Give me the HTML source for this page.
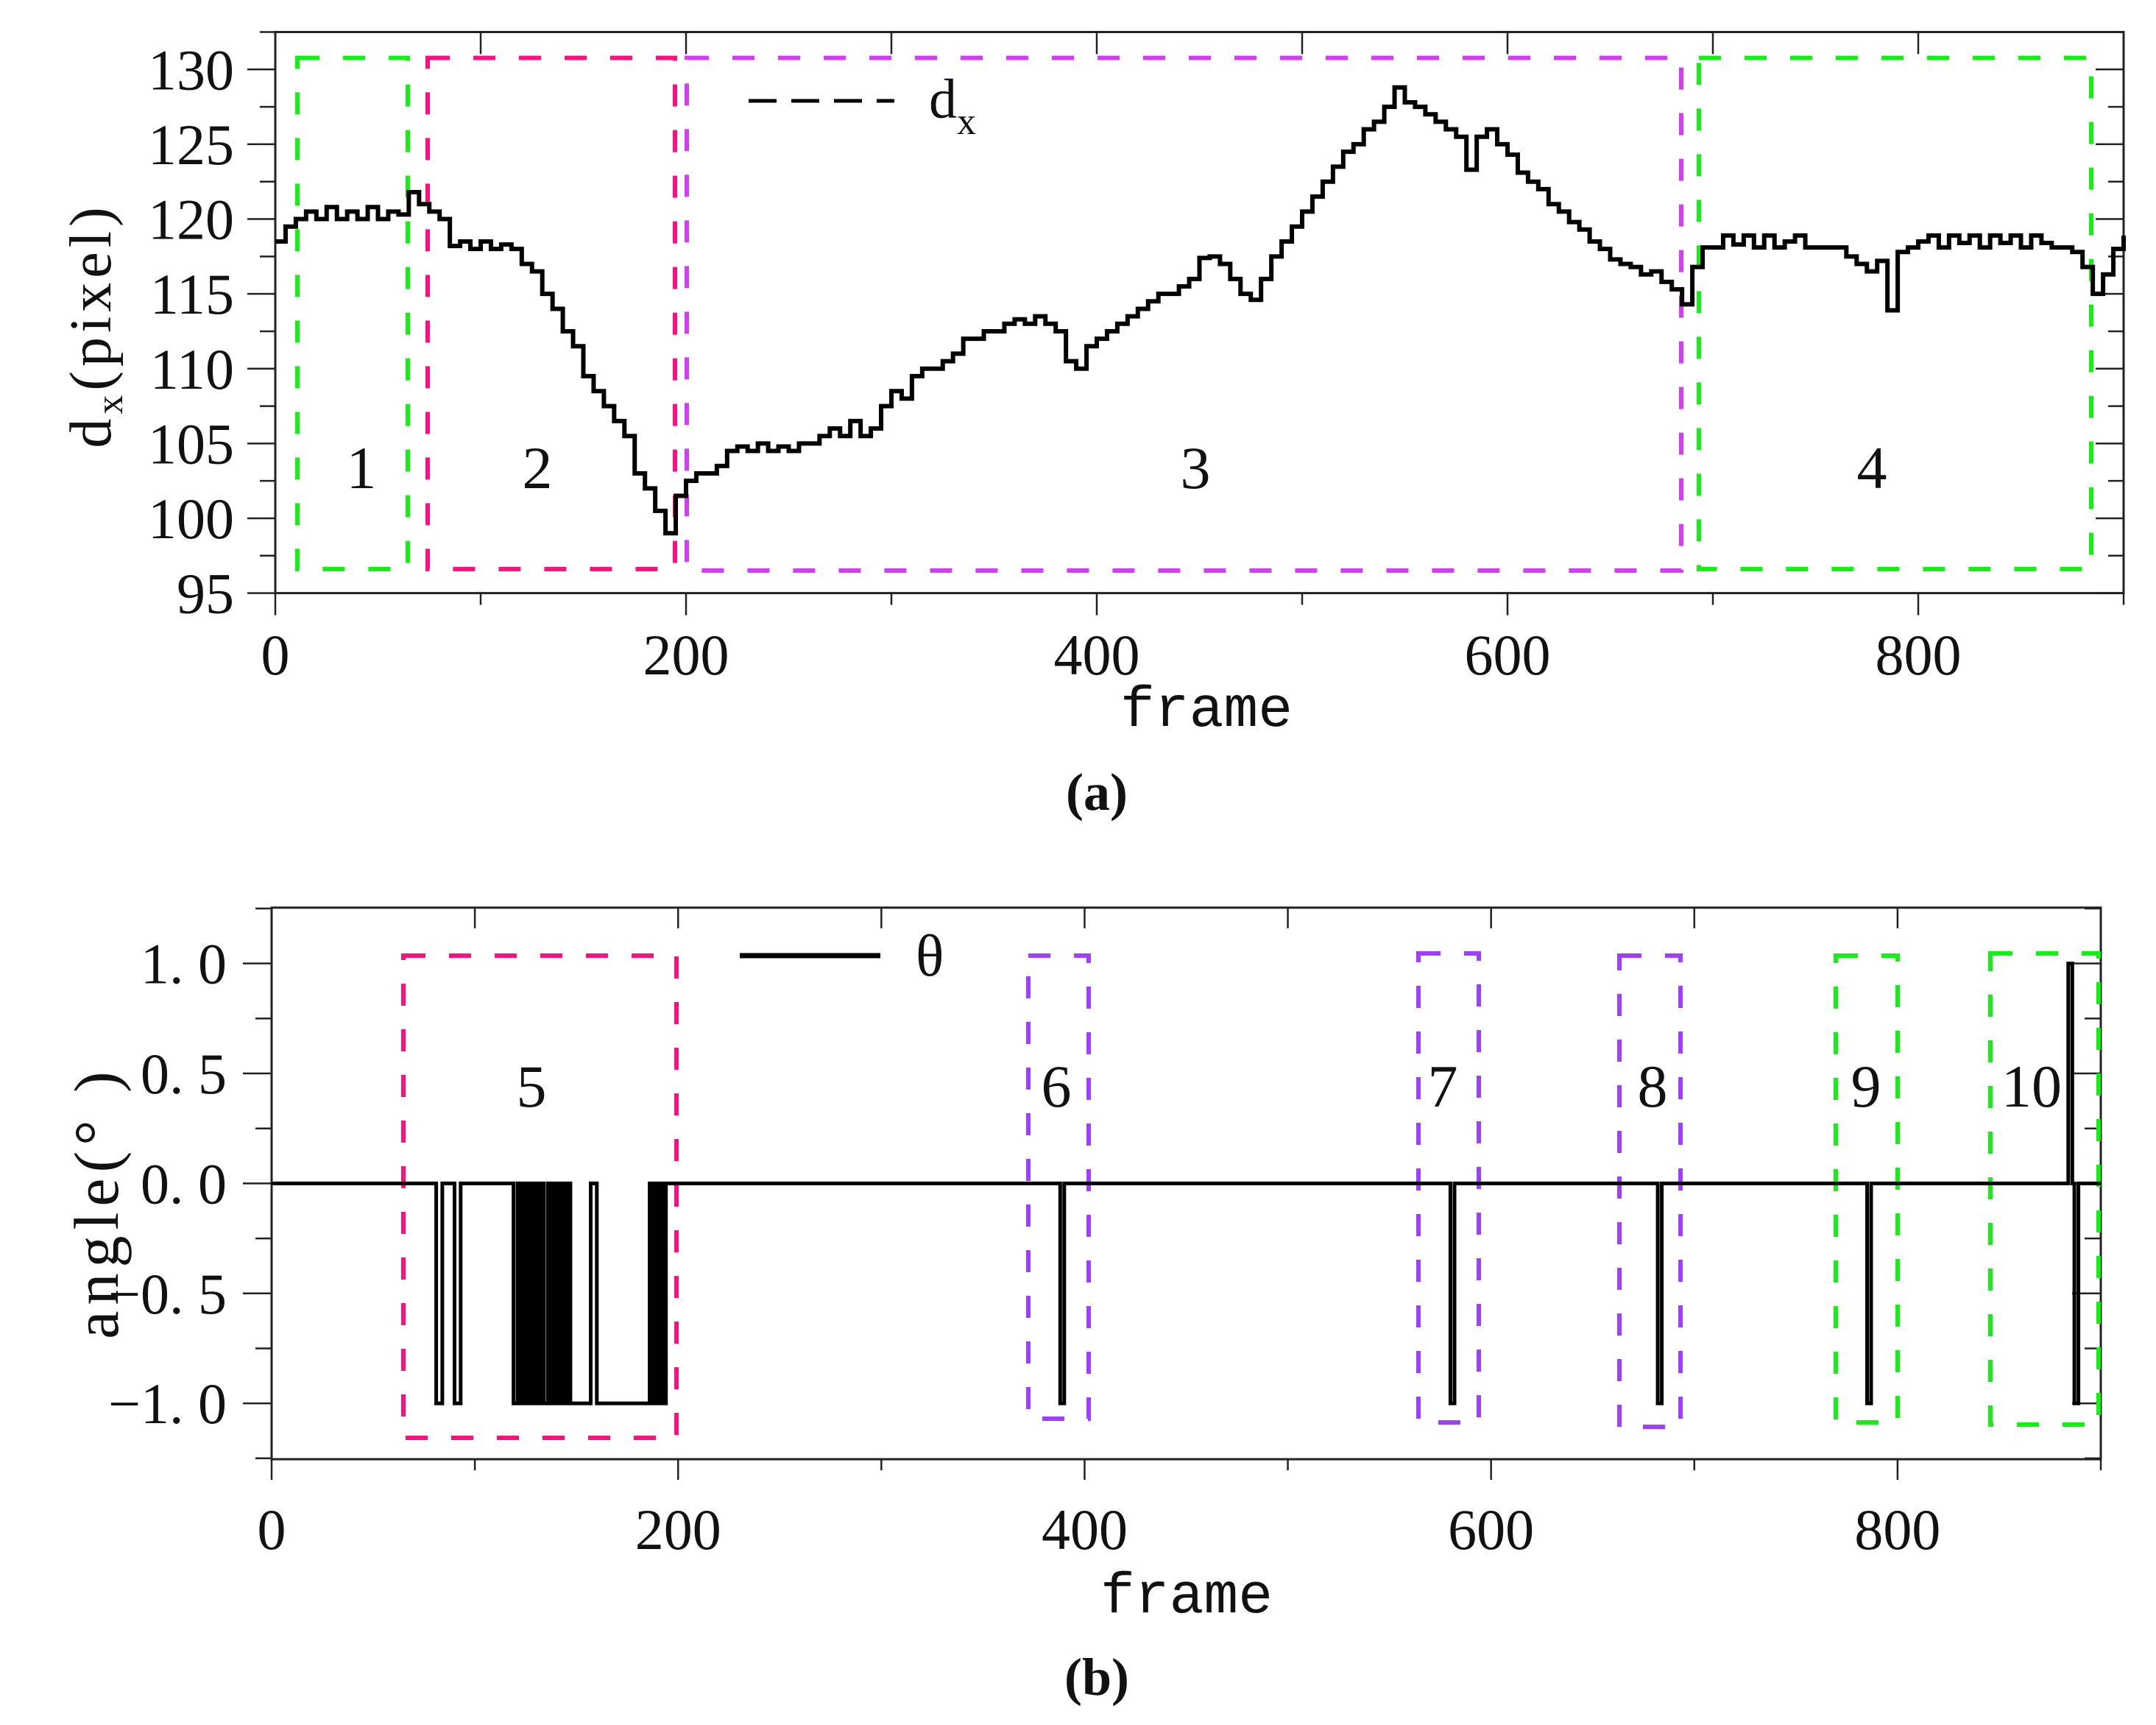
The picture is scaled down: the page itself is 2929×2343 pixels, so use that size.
<!DOCTYPE html>
<html><head><meta charset="utf-8">
<style>
html,body{margin:0;padding:0;background:#fff;}
svg{display:block;}
text{font-family:"Liberation Serif","Noto Serif CJK SC",serif;fill:#111;}
.mono{font-family:"Liberation Mono","Noto Sans CJK SC",monospace;}
</style></head>
<body>
<svg id="fig" width="2929" height="2343" viewBox="0 0 2929 2343" xmlns="http://www.w3.org/2000/svg">
<g id="chartA"></g>
<g id="chartB"></g>
</svg>
<script>
// ---------- Chart (a) data ----------
const dxFrames = [0,5,10,15,20,25,30,35,40,45,50,55,60,65,70,75,80,85,90,95,100,105,110,115,120,125,130,135,140,145,150,155,160,165,170,175,180,185,190,195,200,205,210,215,220,225,230,235,240,245,250,255,260,265,270,275,280,285,290,295,300,305,310,315,320,325,330,335,340,345,350,355,360,365,370,375,380,385,390,395,400,405,410,415,420,425,430,435,440,445,450,455,460,465,470,475,480,485,490,495,500,505,510,515,520,525,530,535,540,545,550,555,560,565,570,575,580,585,590,595,600,605,610,615,620,625,630,635,640,645,650,655,660,665,670,675,680,685,690,695,700,705,710,715,720,725,730,735,740,745,750,755,760,765,770,775,780,785,790,795,800,805,810,815,820,825,830,835,840,845,850,855,860,865,870,875,880,885,890,895,900];
const dxValues = [118.5,119.5,120,120.5,120,120.8,120,120.5,120,120.8,120,120.5,120.3,121.8,121,120.5,120,118.2,118.5,118,118.5,118,118.3,118,117,116.5,115,114,112.5,111.5,109.5,108.5,107.5,106.5,105.5,103,102,100.5,99,101.5,102.5,103,103,103.5,104.5,104.8,104.5,105,104.5,104.8,104.5,105,105,105.5,106,105.5,106.5,105.5,106,107.5,108.5,108,109.5,110,110,110.5,111,112,112,112.5,112.5,113,113.3,113,113.5,113,112.5,110.5,110,111.5,112,112.5,113,113.5,114,114.5,115,115,115.5,116,117.4,117.5,117,116,115,114.6,116,117.5,118.5,119.5,120.5,121.5,122.5,123.5,124.5,125,126,126.5,127.5,128.8,127.8,127.5,127,126.5,126,125.5,123.3,125.5,126,125,124.3,123.1,122.5,122,121,120.5,119.8,119.3,118.5,118,117.3,117,116.8,116.3,116.5,115.8,115.3,114.3,116.8,118.1,118.1,118.9,118.3,118.9,118.1,118.9,118.1,118.5,118.9,118.1,118.1,118.1,118.1,117.5,117,116.5,117.2,113.9,117.8,118.1,118.5,118.9,118.1,118.9,118.4,118.9,118.1,118.9,118.4,118.9,118.1,118.9,118.4,118.1,118.1,117.8,116.8,115,116.3,118,118.9];
const aYTicks = [95,100,105,110,115,120,125,130];
const aXTicks = [0,200,400,600,800];

// ---------- Chart (b) data ----------
const thetaNegFrames = [81,82,83,90,91,92,119,120,122,124,126,128,130,132,134,135,137,139,141,143,145,147,148,149,150,151,152,153,154,155,156,160,161,162,163,164,165,166,167,168,169,170,171,172,173,174,175,176,177,178,179,180,181,182,183,184,185,187,189,191,193,388,389,580,581,682,683,785,786,887,888];
const thetaPosFrames = [884,885];
const bYTicks = [-1.0,-0.5,0.0,0.5,1.0];
const bYLabels = ["\u22121. 0","\u22120. 5","0. 0","0. 5","1. 0"];
const bXTicks = [0,200,400,600,800];

const NS = "http://www.w3.org/2000/svg";
function mk(parent, tag, attrs, txt){
  const e = document.createElementNS(NS, tag);
  for (const k in attrs) e.setAttribute(k, attrs[k]);
  if (txt !== undefined) e.textContent = txt;
  parent.appendChild(e);
  return e;
}

// ================= Chart A =================
const A = document.getElementById('chartA');
const aL=374, aR=2885, aT=43.5, aB=805.6;
const ax = f => aL + (f-0)/(900-0)*(aR-aL);
const ay = v => aB - (v-95)/(132.5-95)*(aB-aT);

let fr = mk(A,'rect',{x:aL,y:aT,width:aR-aL,height:aB-aT,fill:'none',stroke:'#222','stroke-width':3});


for (let v=95; v<=132.5; v+=2.5){
  const major = (v%5===0);
  const y = ay(v);
  let t = mk(A,'line',{x1:aL-(major?38:21),x2:aL,y1:y,y2:y,stroke:'#222','stroke-width':2.5});
  
  
  let t2 = mk(A,'line',{x1:aR,x2:aR-(major?38:21),y1:y,y2:y,stroke:'#222','stroke-width':2.5});
  
  
}
for (let f=0; f<=900; f+=100){
  const major = (f%200===0);
  const x = ax(f);
  let t = mk(A,'line',{x1:x,x2:x,y1:aB,y2:aB+(major?30:16),stroke:'#222','stroke-width':2.5});
  
  
  let t2 = mk(A,'line',{x1:x,x2:x,y1:aT,y2:aT+30,stroke:'#222','stroke-width':2.5});
  
  
}
aYTicks.forEach(v=>{
  let t = mk(A,'text',{x:aL-56,y:ay(v)+27,'text-anchor':'end','font-size':78},String(v));
  
  
});
aXTicks.forEach(f=>{
  let t = mk(A,'text',{x:ax(f),y:916,'text-anchor':'middle','font-size':78},String(f));
  
  
});
let xt = mk(A,'text',{x:1639,y:986,'text-anchor':'middle','font-size':78,'class':'mono'},'frame');


let yt = mk(A,'text',{x:0,y:0,'text-anchor':'middle','font-size':80,'letter-spacing':6,transform:'translate(150,442) rotate(-90)'});


mk(yt,'tspan',{},'d');
mk(yt,'tspan',{'font-size':52,dy:16},'x');
mk(yt,'tspan',{dy:-16},'(pixel)');
let ca = mk(A,'text',{x:1490,y:1100,'text-anchor':'middle','font-size':72,'font-weight':'bold'},'(a)');



const boxesA = [
  {n:'region-box-1',x1:404,x2:554,y1:78.6,y2:773,c:'#14f014'},
  {n:'region-box-2',x1:581,x2:917,y1:78.6,y2:773,c:'#ff1080'},
  {n:'region-box-3',x1:933,x2:2284,y1:78.6,y2:775,c:'#d43cf5'},
  {n:'region-box-4',x1:2308,x2:2841,y1:78.6,y2:773,c:'#14f014'}
];
boxesA.forEach(b=>{
  let r = mk(A,'rect',{x:b.x1,y:b.y1,width:b.x2-b.x1,height:b.y2-b.y1,fill:'none',stroke:b.c,'stroke-width':6,'stroke-dasharray':'30 32'});
  
  
});
[['1',491],['2',730],['3',1624],['4',2543]].forEach(l=>{
  let t = mk(A,'text',{x:l[1],y:663,'text-anchor':'middle','font-size':82},l[0]);
  
  
});

let d = '';
for (let i=0;i<dxFrames.length;i++){
  const x = ax(dxFrames[i]), y = ay(dxValues[i]);
  if (i===0) d += 'M'+x+' '+y;
  else d += ' V'+y;
  const nx = (i<dxFrames.length-1)? ax(dxFrames[i+1]) : x;
  d += ' H'+nx;
}
let dxl = mk(A,'path',{d:d,fill:'none',stroke:'#000','stroke-width':6,'stroke-linejoin':'miter'});



let la = mk(A,'line',{x1:1017,x2:1215,y1:137,y2:137,stroke:'#000','stroke-width':5,'stroke-dasharray':'38 20'});


let lt = mk(A,'text',{x:1262,y:160,'font-size':76});


mk(lt,'tspan',{},'d');
mk(lt,'tspan',{'font-size':52,dy:22},'x');

// ================= Chart B =================
const B = document.getElementById('chartB');
const bL=369, bR=2854, bT=1232.8, bB=1982;
const bx = f => bL + (f-0)/(900-0)*(bR-bL);
const by = v => bB - (v-(-1.254))/(1.254-(-1.254))*(bB-bT);

let frb = mk(B,'rect',{x:bL,y:bT,width:bR-bL,height:bB-bT,fill:'none',stroke:'#222','stroke-width':3});


for (let k=-5;k<=5;k++){
  const v = k*0.25;
  const major = (k%2===0);
  const y = by(v);
  let t = mk(B,'line',{x1:bL-(major?39:22),x2:bL,y1:y,y2:y,stroke:'#222','stroke-width':2.5});
  
  
  let t2 = mk(B,'line',{x1:bR,x2:bR-(major?39:22),y1:y,y2:y,stroke:'#222','stroke-width':2.5});
  
  
}
for (let f=0; f<=900; f+=100){
  const major = (f%200===0);
  const x = bx(f);
  let t = mk(B,'line',{x1:x,x2:x,y1:bB,y2:bB+(major?28:15),stroke:'#222','stroke-width':2.5});
  
  
  let t2 = mk(B,'line',{x1:x,x2:x,y1:bT,y2:bT+28,stroke:'#222','stroke-width':2.5});
  
  
}
bYTicks.forEach((v,i)=>{
  let t = mk(B,'text',{x:308,y:by(v)+27,'text-anchor':'end','font-size':78},bYLabels[i]);
  
  
});
bXTicks.forEach(f=>{
  let t = mk(B,'text',{x:bx(f),y:2104,'text-anchor':'middle','font-size':78},String(f));
  
  
});
let xtb = mk(B,'text',{x:1612,y:2190,'text-anchor':'middle','font-size':78,'class':'mono'},'frame');


let ytb = mk(B,'text',{x:0,y:0,'text-anchor':'middle','font-size':86,'letter-spacing':8,transform:'translate(160,1633) rotate(-90)'},'angle(\u00b0 )');


let cb = mk(B,'text',{x:1490,y:2302,'text-anchor':'middle','font-size':72,'font-weight':'bold'},'(b)');



const boxesB = [
  {n:'region-box-5',x1:548,x2:919,y1:1298,y2:1953,c:'#ff1080'},
  {n:'region-box-6',x1:1397,x2:1479,y1:1298,y2:1927,c:'#a040ff'},
  {n:'region-box-7',x1:1927,x2:2009,y1:1295,y2:1932,c:'#a040ff'},
  {n:'region-box-8',x1:2200,x2:2283,y1:1298,y2:1938,c:'#a040ff'},
  {n:'region-box-9',x1:2494,x2:2578,y1:1298,y2:1932,c:'#14f014'},
  {n:'region-box-10',x1:2704,x2:2851,y1:1295,y2:1935,c:'#14f014'}
];
boxesB.forEach(b=>{
  let r = mk(B,'rect',{x:b.x1,y:b.y1,width:b.x2-b.x1,height:b.y2-b.y1,fill:'none',stroke:b.c,'stroke-width':6,'stroke-dasharray':'30 32'});
  
  
});
[['5',722],['6',1435],['7',1960],['8',2245],['9',2535],['10',2760]].forEach(l=>{
  let t = mk(B,'text',{x:l[1],y:1503,'text-anchor':'middle','font-size':82},l[0]);
  
  
});

const theta = [];
for (let f=0; f<=900; f++){
  let v = 0;
  if (thetaNegFrames.indexOf(f)>=0) v = -1;
  if (thetaPosFrames.indexOf(f)>=0) v = 1;
  theta.push(v);
}
let pd = '';
theta.forEach((v,f)=>{
  if (f===0) pd += 'M'+bx(f).toFixed(1)+' '+by(v).toFixed(1);
  else pd += ' V'+by(v).toFixed(1);
  pd += ' H'+bx(Math.min(f+1,900)).toFixed(1);
});
let tl = mk(B,'path',{d:pd,fill:'none',stroke:'#000','stroke-width':5,'stroke-linejoin':'miter'});



let lb = mk(B,'line',{x1:1005,x2:1196,y1:1298,y2:1298,stroke:'#000','stroke-width':7});


let lbt = mk(B,'text',{x:1244,y:1325,'font-size':80},'\u03b8');


</script>
</body></html>
